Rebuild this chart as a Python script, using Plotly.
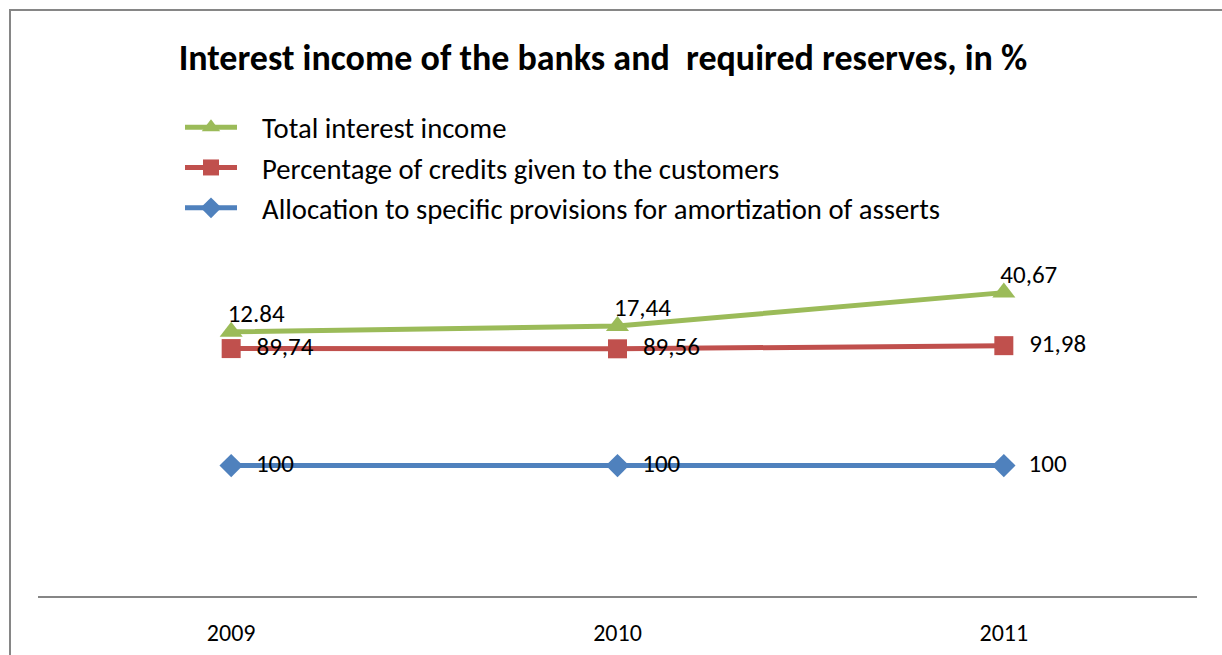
import plotly.graph_objects as go

years = ["2009", "2010", "2011"]
allocation = [100, 100, 100]
credits = [89.74, 89.56, 91.98]
total_income = [12.84, 17.44, 40.67]
allocation_labels = ["100", "100", "100"]
credits_labels = ["89,74", "89,56", "91,98"]
income_labels = ["12.84", "17,44", "40,67"]

W, H = 1222, 655
ML, MR, MT, MB = 38, 25, 270, 59
FONT = "Carlito, Calibri, Lato, sans-serif"
LBL = dict(size=25, color="#000000", family=FONT)
PAD = "\u2002\u2009"

fig = go.Figure()
fig.add_trace(go.Scatter(
    x=years, y=allocation, name=PAD + "Allocation to specific provisions for amortization of asserts",
    stackgroup="s", fill="none", mode="lines+markers+text", cliponaxis=False,
    line=dict(color="#4F81BD", width=5),
    marker=dict(symbol="diamond", size=18, color="#4F81BD"),
    text=allocation_labels, texttemplate="\u2002%{text}", textposition="middle right",
    textfont=LBL,
))
fig.add_trace(go.Scatter(
    x=years, y=credits, name=PAD + "Percentage of credits given to the customers",
    stackgroup="s", fill="none", mode="lines+markers+text", cliponaxis=False,
    line=dict(color="#C0504D", width=5),
    marker=dict(symbol="square", size=19, color="#C0504D"),
    text=credits_labels, texttemplate="\u2002%{text}", textposition="middle right",
    textfont=LBL,
))
fig.add_trace(go.Scatter(
    x=years, y=total_income, name=PAD + "Total interest income",
    stackgroup="s", fill="none", mode="lines+markers+text", cliponaxis=False,
    line=dict(color="#9BBB59", width=5),
    marker=dict(symbol="triangle-up", size=20, color="#9BBB59"),
    text=income_labels, texttemplate="\u2003\u2003%{text}<br>\u2003", textposition="middle center",
    textfont=LBL,
))

plot_w = W - ML - MR
plot_h = H - MT - MB
# chart border (top-left corner visible)
fig.add_shape(type="rect", xref="paper", yref="paper",
              x0=(10 - ML) / plot_w, x1=2.0,
              y0=-1.0, y1=(H - MB - 10) / plot_h,
              line=dict(color="#868686", width=2), fillcolor="rgba(0,0,0,0)", layer="below")

fig.update_layout(
    width=W, height=H,
    margin=dict(l=ML, r=MR, t=MT, b=MB, autoexpand=False),
    paper_bgcolor="white", plot_bgcolor="white",
    font=dict(family=FONT, color="#000000"),
    title=dict(text="<b>Interest income of the banks and  required reserves, in %</b>",
               x=603 / W, xanchor="center", y=1 - 57 / H, yanchor="middle",
               font=dict(size=36, family=FONT, color="#000000")),
    legend=dict(xref="container", yref="container", x=180 / W, y=1 - 102 / H,
                xanchor="left", yanchor="top", traceorder="reversed",
                font=dict(size=28.7, family=FONT), bgcolor="rgba(0,0,0,0)",
                itemwidth=52),
    showlegend=True,
    xaxis=dict(type="category", range=[-0.5, 2.5], showgrid=False, zeroline=False,
               showline=True, linecolor="#868686", linewidth=2, ticks="",
               tickfont=dict(size=24, family=FONT, color="#000000"),
               ticklabelstandoff=14, fixedrange=True),
    yaxis=dict(range=[0, 250], visible=False, showgrid=False, zeroline=False, fixedrange=True),
)

fig.write_html("out.html")
